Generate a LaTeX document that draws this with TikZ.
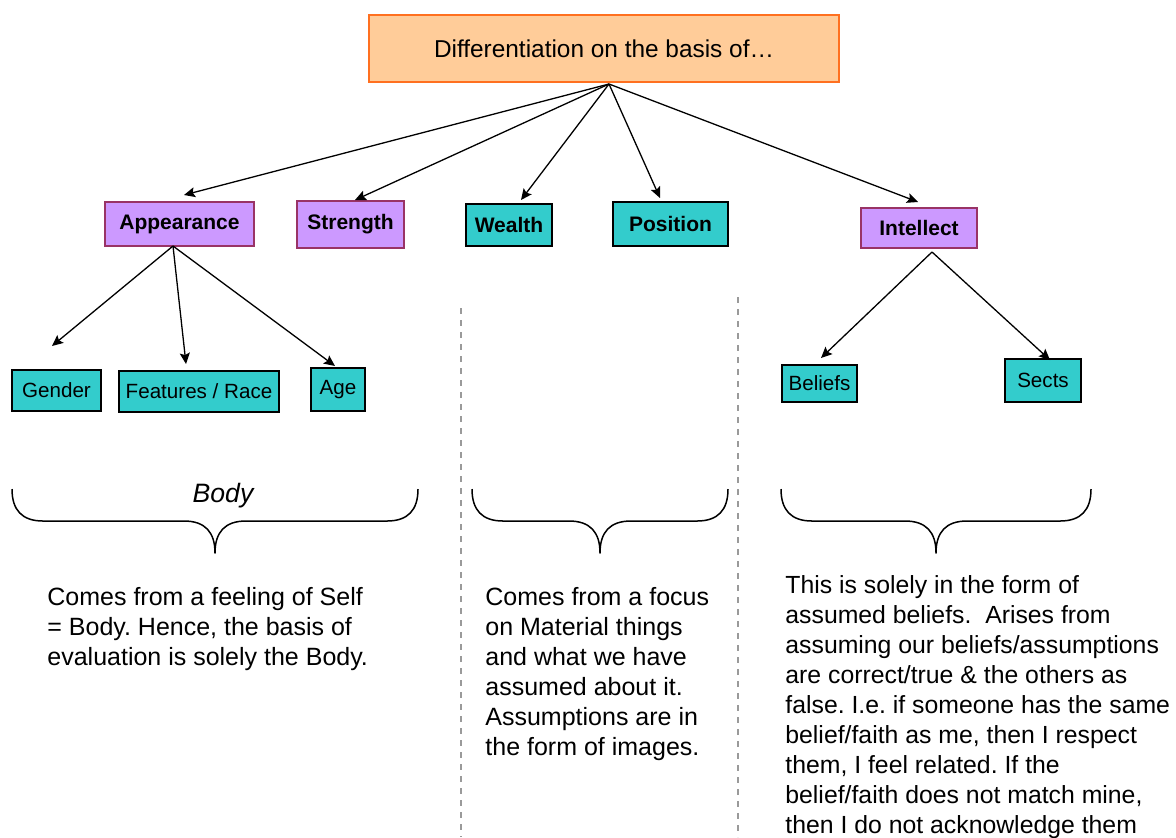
\documentclass[tikz,border=0pt]{standalone}
\usepackage{fontspec}
\setmainfont{Liberation Sans}
\usetikzlibrary{arrows.meta}
\frenchspacing

\definecolor{topfill}{HTML}{FFCC99}
\definecolor{topline}{HTML}{FF7020}
\definecolor{violetfill}{HTML}{CC99FF}
\definecolor{violetline}{HTML}{993366}
\definecolor{tealfill}{HTML}{33CCCC}
\definecolor{dashgrey}{HTML}{9A9A9A}

\tikzset{
  box/.style={draw, line width=0.75pt, inner sep=0pt, align=center},
  titlebox/.style={box, fill=topfill, draw=topline, font=\fontsize{12.2}{14}\selectfont},
  groupbox/.style={box, fill=violetfill, draw=violetline, font=\bfseries\fontsize{10.5}{12}\selectfont},
  materialbox/.style={box, fill=tealfill, draw=black, font=\bfseries\fontsize{10.5}{12}\selectfont},
  leafbox/.style={box, fill=tealfill, draw=black, font=\fontsize{10.3}{12}\selectfont},
  link/.style={line width=0.65pt, -{Stealth[length=5.5pt,width=5pt,inset=1pt]}},
  divider/.style={draw=dashgrey, line width=0.85pt, dash pattern=on 3pt off 3pt},
  bracestyle/.style={line width=0.75pt, line join=round},
  note/.style={anchor=base west, inner sep=0pt, font=\fontsize{12.5}{15}\selectfont}
}

% curly brace opening downwards: left end, tip, right end (x values)
\newcommand\curlybrace[3]{%
  \draw[bracestyle] (#1,489) .. controls (#1,510) and ({#1+10},521) .. ({#1+31},521)
    -- ({#2-31},521) .. controls ({#2-10},521) and (#2,532) .. (#2,553)
    .. controls (#2,532) and ({#2+10},521) .. ({#2+31},521)
    -- ({#3-31},521) .. controls ({#3-10},521) and (#3,510) .. (#3,489);}

\begin{document}
\begin{tikzpicture}[x=0.5pt, y=-0.5pt]
\useasboundingbox (0,0) rectangle (1176,837);

% root
\node[titlebox, minimum width=235pt, minimum height=33.5pt] (root) at (604,48.5) {Differentiation on the basis of\ldots};
\coordinate (hub) at (609,84);

% first level
\node[groupbox, minimum width=74.5pt, minimum height=22pt] (app) at (179.5,224) {Appearance};
\node[groupbox, minimum width=53.5pt, minimum height=23.5pt] (str) at (350.5,224.5) {Strength};
\node[materialbox, minimum width=43pt, minimum height=21pt] (wea) at (509,225) {Wealth};
\node[materialbox, minimum width=57.5pt, minimum height=22pt] (pos) at (670.5,224) {Position};
\node[groupbox, minimum width=58pt, minimum height=20pt] (int) at (919,228) {Intellect};

\coordinate (appIn) at (184,195);
\coordinate (strIn) at (355,200);
\coordinate (weaIn) at (521,200);
\coordinate (posIn) at (660,198);
\coordinate (intIn) at (918,202);

\draw[link] (hub) -- (appIn);
\draw[link] (hub) -- (strIn);
\draw[link] (hub) -- (weaIn);
\draw[link] (hub) -- (posIn);
\draw[link] (hub) -- (intIn);

% second level
\node[leafbox, minimum width=44.5pt, minimum height=20.5pt] (gen) at (56.5,390.5) {Gender};
\node[leafbox, minimum width=80pt, minimum height=20.5pt] (fea) at (199,391.5) {Features / Race};
\node[leafbox, minimum width=27pt, minimum height=21.5pt] (age) at (338,389.5) {Age};
\node[leafbox, minimum width=37.5pt, minimum height=18.5pt] (bel) at (819.5,383.5) {Beliefs};
\node[leafbox, minimum width=38pt, minimum height=21.5pt] (sec) at (1043,380.5) {Sects};

\coordinate (appOut) at (173,246);
\coordinate (intOut) at (932,252);
\coordinate (genIn) at (52,346);
\coordinate (feaIn) at (186,364);
\coordinate (ageIn) at (335,366);
\coordinate (belIn) at (821,358);
\coordinate (secIn) at (1050,360);

\draw[link] (appOut) -- (genIn);
\draw[link] (appOut) -- (feaIn);
\draw[link] (appOut) -- (ageIn);
\draw[link] (intOut) -- (belIn);
\draw[link] (intOut) -- (secIn);

% column dividers
\draw[divider] (461,308) -- (461,837);
\draw[divider] (738,297) -- (738,837);

% braces
\curlybrace{12}{215}{418}
\curlybrace{472}{600}{728}
\curlybrace{781}{936}{1091}
\node[font=\itshape\fontsize{13.3}{15}\selectfont] (body) at (223,496) {Body};

% explanations
\node[note] (bodytext) at (47,605) {\parbox[t]{200pt}{\raggedright
Comes from a feeling of Self\\
= Body. Hence, the basis of\\
evaluation is solely the Body.}};
\node[note] (mattext) at (485,605) {\parbox[t]{200pt}{\raggedright
Comes from a focus\\
on Material things\\
and what we have\\
assumed about it.\\
Assumptions are in\\
the form of images.}};
\node[note, font=\fontsize{12.4}{15}\selectfont] (inttext) at (785,593) {\parbox[t]{220pt}{\raggedright
This is solely in the form of\\
assumed beliefs.\ \ Arises from\\
assuming our beliefs/assumptions\\
are correct/true \& the others as\\
false. I.e. if someone has the same\\
belief/faith as me, then I respect\\
them, I feel related. If the\\
belief/faith does not match mine,\\
then I do not acknowledge them}};
\end{tikzpicture}
\end{document}
